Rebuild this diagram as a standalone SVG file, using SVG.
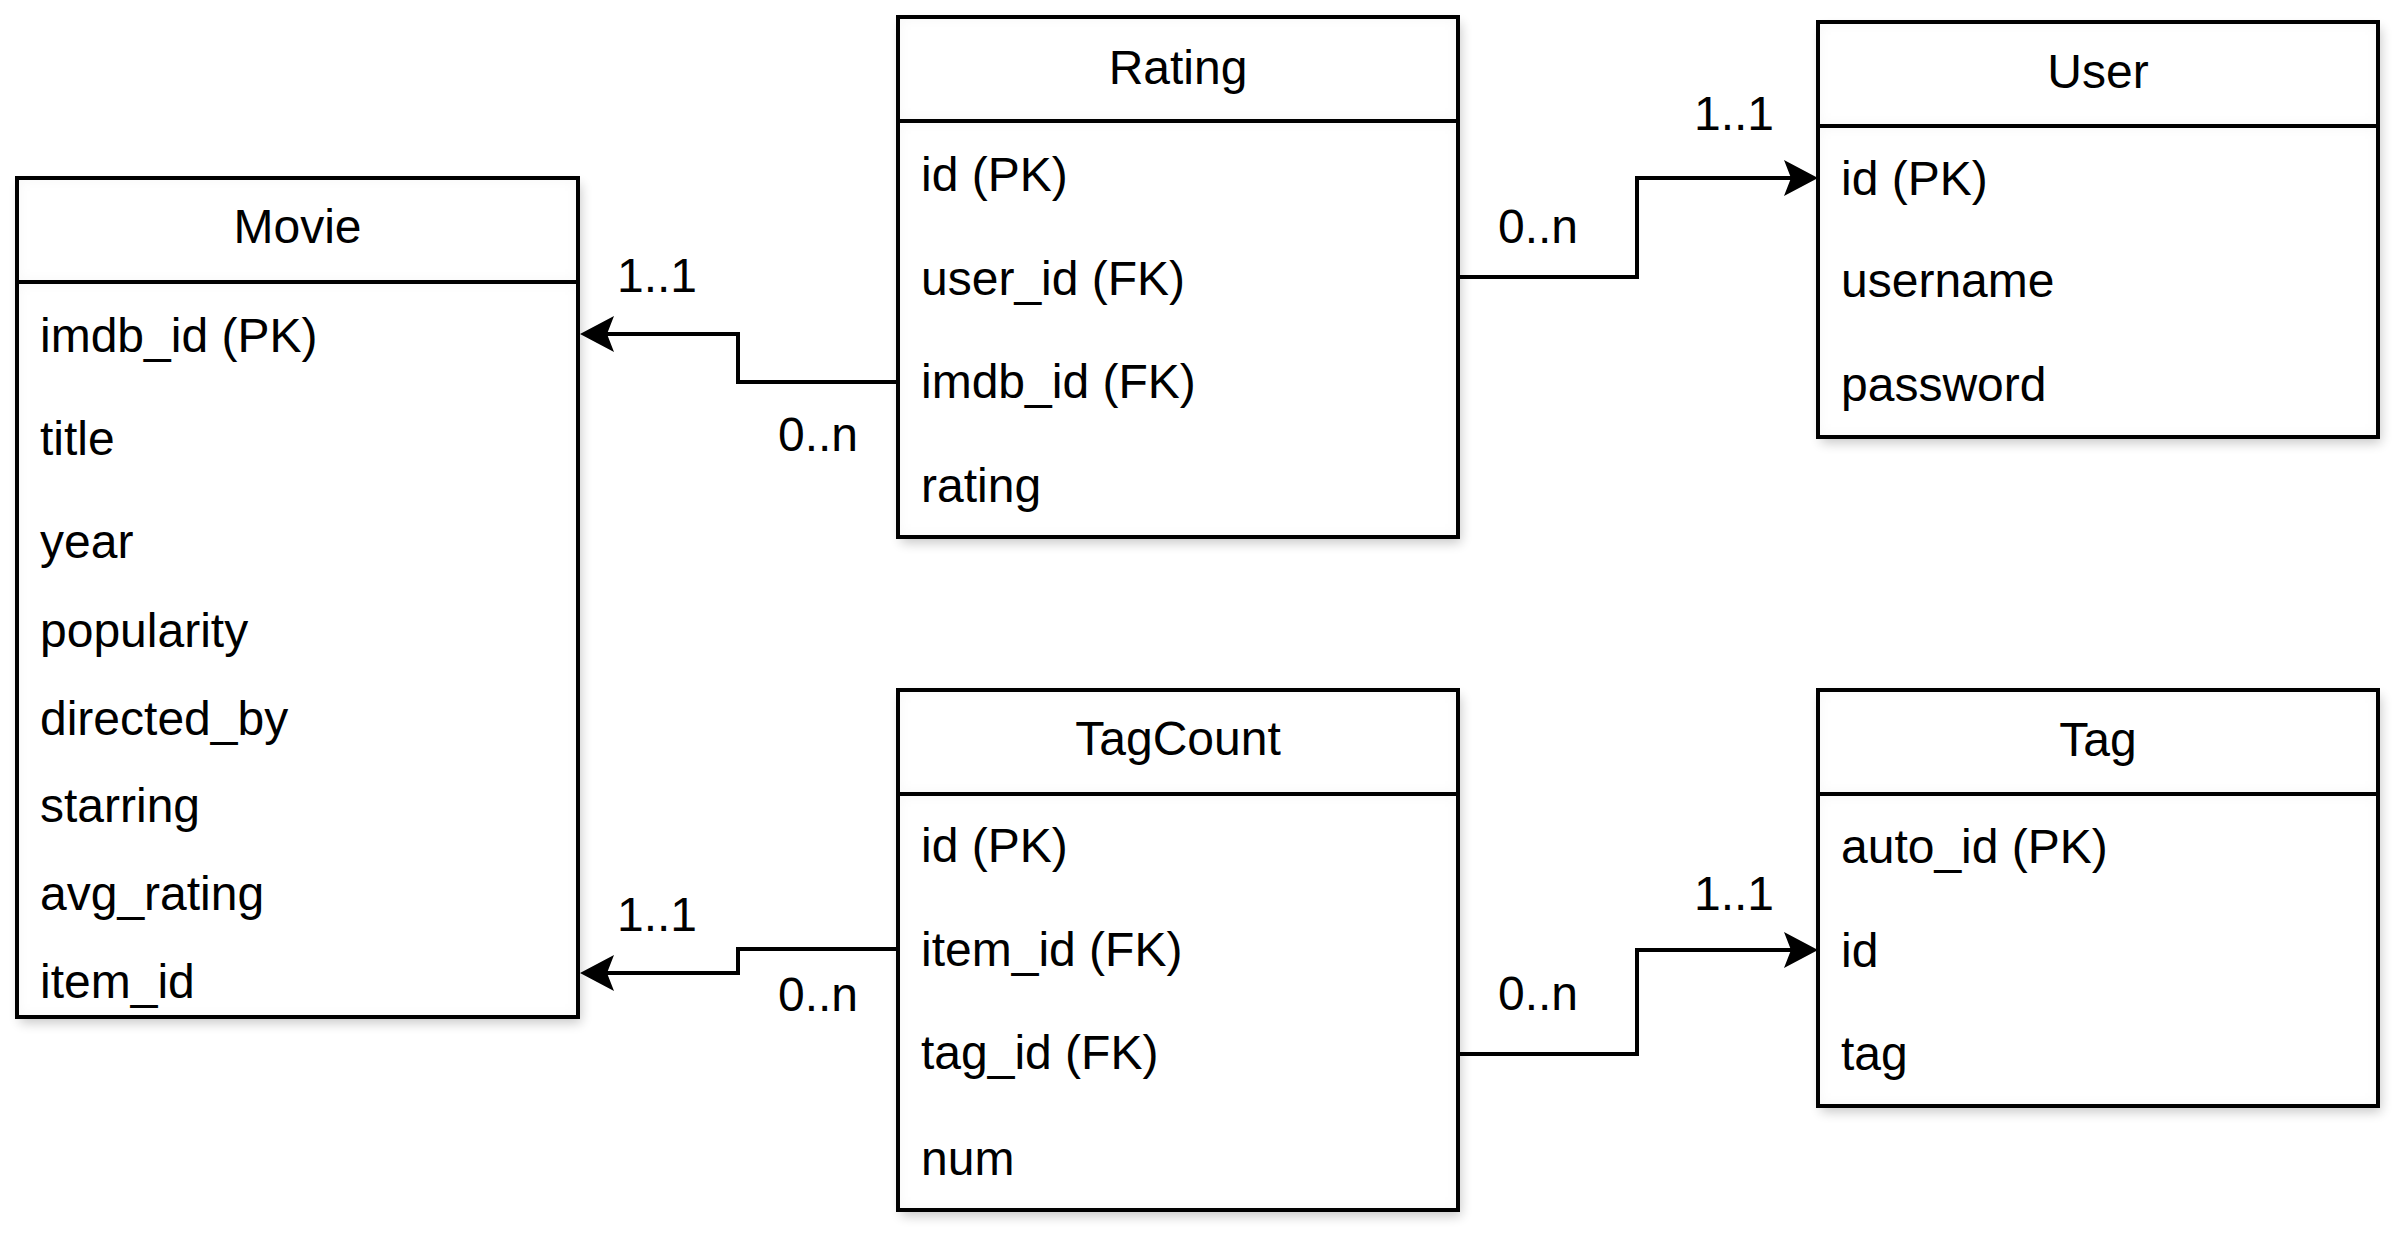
<svg xmlns="http://www.w3.org/2000/svg" width="2408" height="1244" viewBox="0 0 2408 1244">
<defs>
<style>
text{font-family:"Liberation Sans",Arial,sans-serif;font-size:48px;fill:#000}
.t{text-anchor:middle}
.sec{fill:#fff;filter:url(#inset)}
.box{fill:#fff;stroke:none;filter:url(#drop)}
.edge{fill:none;stroke:#000;stroke-width:4}
.conn{fill:none;stroke:#000;stroke-width:4;marker-end:url(#arr)}
</style>
<filter id="drop" x="-10%" y="-10%" width="125%" height="125%">
<feGaussianBlur in="SourceAlpha" stdDeviation="6"/>
<feOffset dx="3" dy="6" result="b"/>
<feComponentTransfer><feFuncA type="linear" slope="0.22"/></feComponentTransfer>
<feMerge><feMergeNode/><feMergeNode in="SourceGraphic"/></feMerge>
</filter>
<filter id="inset" x="-10%" y="-10%" width="120%" height="120%">
<feFlood flood-color="#000" flood-opacity="0.09"/>
<feComposite in2="SourceAlpha" operator="out"/>
<feGaussianBlur stdDeviation="7"/>
<feComposite in2="SourceAlpha" operator="in" result="s"/>
<feMerge><feMergeNode in="SourceGraphic"/><feMergeNode in="s"/></feMerge>
</filter>
<marker id="arr" markerUnits="userSpaceOnUse" viewBox="0 -20 36 40" refX="7" refY="0" markerWidth="36" markerHeight="40" orient="auto">
<path d="M0,-18 L34,0 L0,18 L7,0 Z" fill="#000"/>
</marker>
</defs>

<g id="movie">
<rect class="box" x="17" y="178" width="561" height="839"/>
<rect class="sec" x="17" y="178" width="561" height="104"/>
<rect class="sec" x="17" y="282" width="561" height="735"/>
<rect class="edge" x="17" y="178" width="561" height="839"/>
<line class="edge" x1="17" y1="282" x2="578" y2="282"/>
<text class="t" x="297.5" y="243">Movie</text>
<text x="40" y="352">imdb_id (PK)</text>
<text x="40" y="455">title</text>
<text x="40" y="558">year</text>
<text x="40" y="647">popularity</text>
<text x="40" y="735">directed_by</text>
<text x="40" y="822">starring</text>
<text x="40" y="910">avg_rating</text>
<text x="40" y="998">item_id</text>
</g>

<g id="rating">
<rect class="box" x="898" y="17" width="560" height="520"/>
<rect class="sec" x="898" y="17" width="560" height="104"/>
<rect class="sec" x="898" y="121" width="560" height="416"/>
<rect class="edge" x="898" y="17" width="560" height="520"/>
<line class="edge" x1="898" y1="121" x2="1458" y2="121"/>
<text class="t" x="1178" y="84">Rating</text>
<text x="921" y="191">id (PK)</text>
<text x="921" y="295">user_id (FK)</text>
<text x="921" y="398">imdb_id (FK)</text>
<text x="921" y="502">rating</text>
</g>

<g id="user">
<rect class="box" x="1818" y="22" width="560" height="415"/>
<rect class="sec" x="1818" y="22" width="560" height="104"/>
<rect class="sec" x="1818" y="126" width="560" height="311"/>
<rect class="edge" x="1818" y="22" width="560" height="415"/>
<line class="edge" x1="1818" y1="126" x2="2378" y2="126"/>
<text class="t" x="2098" y="88">User</text>
<text x="1841" y="195">id (PK)</text>
<text x="1841" y="297">username</text>
<text x="1841" y="401">password</text>
</g>

<g id="tagcount">
<rect class="box" x="898" y="690" width="560" height="520"/>
<rect class="sec" x="898" y="690" width="560" height="104"/>
<rect class="sec" x="898" y="794" width="560" height="416"/>
<rect class="edge" x="898" y="690" width="560" height="520"/>
<line class="edge" x1="898" y1="794" x2="1458" y2="794"/>
<text class="t" x="1178" y="755">TagCount</text>
<text x="921" y="862">id (PK)</text>
<text x="921" y="966">item_id (FK)</text>
<text x="921" y="1069">tag_id (FK)</text>
<text x="921" y="1175">num</text>
</g>

<g id="tag">
<rect class="box" x="1818" y="690" width="560" height="416"/>
<rect class="sec" x="1818" y="690" width="560" height="104"/>
<rect class="sec" x="1818" y="794" width="560" height="312"/>
<rect class="edge" x="1818" y="690" width="560" height="416"/>
<line class="edge" x1="1818" y1="794" x2="2378" y2="794"/>
<text class="t" x="2098" y="756">Tag</text>
<text x="1841" y="863">auto_id (PK)</text>
<text x="1841" y="967">id</text>
<text x="1841" y="1070">tag</text>
</g>

<g id="connectors">
<path class="conn" d="M897,382 H738 V334 H607"/>
<path class="conn" d="M1458,277 H1637 V178 H1791"/>
<path class="conn" d="M897,949 H738 V973 H607"/>
<path class="conn" d="M1458,1054 H1637 V950 H1791"/>
<text x="617" y="292">1..1</text>
<text x="778" y="451">0..n</text>
<text x="1498" y="243">0..n</text>
<text x="1694" y="130">1..1</text>
<text x="617" y="931">1..1</text>
<text x="778" y="1011">0..n</text>
<text x="1498" y="1010">0..n</text>
<text x="1694" y="910">1..1</text>
</g>
</svg>
